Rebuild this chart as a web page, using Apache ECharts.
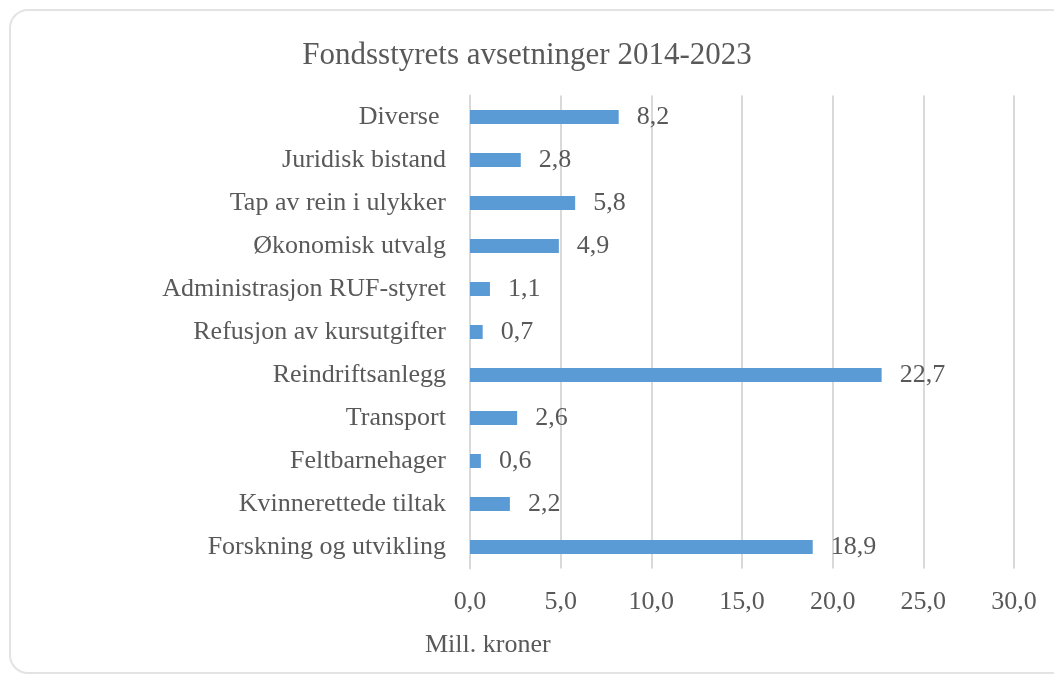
<!DOCTYPE html>
<html>
<head>
<meta charset="utf-8">
<script src="https://cdn.jsdelivr.net/npm/echarts@6/dist/echarts.min.js"></script>
<style>
  html, body { margin: 0; padding: 0; background: #fff; }
  #chart { width: 1054px; height: 674px; }
</style>
</head>
<body>
<div id="chart"></div>
<script>
// categories top to bottom, as in the picture
const categories = [
  'Diverse ',
  'Juridisk bistand',
  'Tap av rein i ulykker',
  'Økonomisk utvalg',
  'Administrasjon RUF-styret',
  'Refusjon av kursutgifter',
  'Reindriftsanlegg',
  'Transport',
  'Feltbarnehager',
  'Kvinnerettede tiltak',
  'Forskning og utvikling'
];
const values = [8.2, 2.8, 5.8, 4.9, 1.1, 0.7, 22.7, 2.6, 0.6, 2.2, 18.9];

const title = 'Fondsstyrets avsetninger 2014-2023';
const unitLabel = 'Mill. kroner';

const fontFamily = '"Liberation Serif", "Times New Roman", serif';
const textColor = '#595959';
const gridColor = '#d9d9d9';
const barColor = '#5b9bd5';

const fmt = v => v.toFixed(1).replace('.', ',');

const chart = echarts.init(document.getElementById('chart'));

const option = {
  animation: false,
  title: [
    {
      text: title,
      left: 'center',
      top: 35,
      textStyle: { color: textColor, fontFamily: fontFamily, fontSize: 31, fontWeight: 'normal' }
    },
    {
      text: unitLabel,
      left: 420,
      top: 627,
      textStyle: { color: textColor, fontFamily: fontFamily, fontSize: 26, fontWeight: 'normal' }
    }
  ],
  // rounded frame, runs off the right edge like in the picture
  graphic: [
    {
      type: 'rect',
      silent: true,
      shape: { x: 10, y: 10, width: 1060, height: 663, r: 18 },
      style: { fill: 'none', stroke: '#e3e3e3', lineWidth: 2 }
    }
  ],
  grid: {
    left: 470,
    right: 40,
    top: 95.5,
    bottom: 105.5,
    containLabel: false
  },
  xAxis: {
    type: 'value',
    min: 0,
    max: 30,
    interval: 5,
    axisLine: { show: false },
    axisTick: { show: false },
    axisLabel: {
      color: textColor,
      fontFamily: fontFamily,
      fontSize: 26,
      margin: 21,
      formatter: v => fmt(v)
    },
    splitLine: { show: true, lineStyle: { color: gridColor, width: 2 } }
  },
  yAxis: {
    type: 'category',
    data: categories,
    inverse: true,
    axisLine: { show: true, lineStyle: { color: gridColor, width: 2 } },
    axisTick: { show: false },
    axisLabel: {
      color: textColor,
      fontFamily: fontFamily,
      fontSize: 26,
      margin: 24
    }
  },
  series: [
    {
      type: 'bar',
      data: values,
      barWidth: 14,
      itemStyle: { color: barColor },
      label: {
        show: true,
        position: 'right',
        distance: 18,
        color: textColor,
        fontFamily: fontFamily,
        fontSize: 26,
        formatter: p => fmt(p.value)
      }
    }
  ]
};

chart.setOption(option);
</script>
</body>
</html>
